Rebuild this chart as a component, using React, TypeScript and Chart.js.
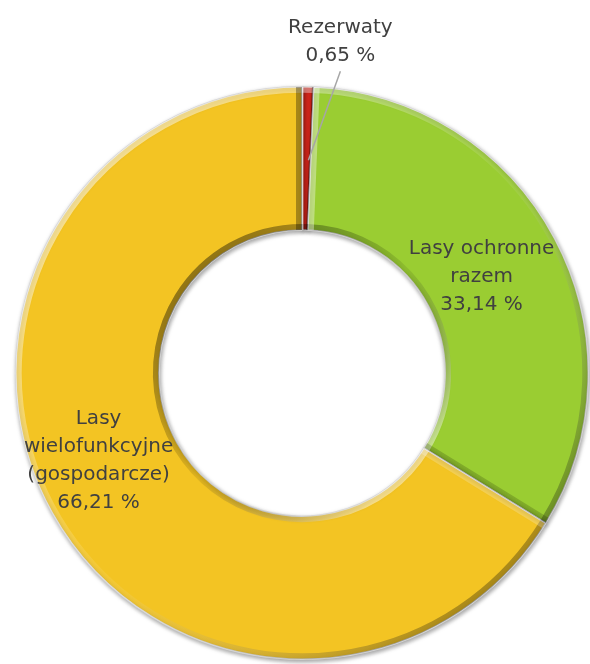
import React, { useEffect, useRef } from "react";
import { Chart, registerables } from "chart.js";

Chart.register(...registerables);

const categories = ["Rezerwaty", "Lasy ochronne razem", "Lasy wielofunkcyjne (gospodarcze)"];
const labelNames = [["Rezerwaty"], ["Lasy ochronne", "razem"], ["Lasy", "wielofunkcyjne", "(gospodarcze)"]];
const values = [0.65, 33.14, 66.21];
const colors = ["#D0261C", "#9ACD32", "#F3C423"];
// label block offsets relative to each slice centre (style only)
const labelOffsets = [
  { dx: 34, dy: -117 },
  { dx: -10, dy: 5 },
  { dx: -16, dy: -17 },
];

const fmt = (v: number) => v.toFixed(2).replace(".", ",") + " %";

const FONT = "20px 'DejaVu Sans'";
const LINE_H = 28;

const shadowPlugin = {
  id: "shadowBevel",
  beforeDatasetDraw(chart: any) {
    const ctx = chart.ctx;
    ctx.save();
    ctx.shadowColor = "rgba(0,0,0,0.35)";
    ctx.shadowBlur = 4;
    ctx.shadowOffsetX = 1;
    ctx.shadowOffsetY = 2;
  },
  afterDatasetDraw(chart: any) {
    const ctx = chart.ctx;
    ctx.restore();
    const meta = chart.getDatasetMeta(0);
    const Lx = -Math.SQRT1_2, Ly = -Math.SQRT1_2;
    meta.data.forEach((arc: any) => {
      const { x, y, startAngle, endAngle, innerRadius, outerRadius } = arc.getProps(
        ["x", "y", "startAngle", "endAngle", "innerRadius", "outerRadius"], true);
      const narrow = (endAngle - startAngle) * innerRadius;
      ctx.save();
      ctx.beginPath();
      ctx.arc(x, y, outerRadius, startAngle, endAngle);
      ctx.arc(x, y, innerRadius, endAngle, startAngle, true);
      ctx.closePath();
      ctx.clip();
      const bw = 12;
      ctx.lineWidth = bw;
      // outer edge
      const g1 = ctx.createLinearGradient(x - outerRadius * 0.7, y - outerRadius * 0.7, x + outerRadius * 0.7, y + outerRadius * 0.7);
      g1.addColorStop(0, "rgba(255,255,255,0.5)");
      g1.addColorStop(0.5, "rgba(255,255,255,0.08)");
      g1.addColorStop(1, "rgba(0,0,0,0.3)");
      ctx.strokeStyle = g1;
      ctx.beginPath();
      ctx.arc(x, y, outerRadius, startAngle, endAngle);
      ctx.stroke();
      // inner edge
      const g2 = ctx.createLinearGradient(x - innerRadius * 0.7, y - innerRadius * 0.7, x + innerRadius * 0.7, y + innerRadius * 0.7);
      g2.addColorStop(0, "rgba(0,0,0,0.4)");
      g2.addColorStop(0.5, "rgba(0,0,0,0.08)");
      g2.addColorStop(1, "rgba(255,255,255,0.45)");
      ctx.strokeStyle = g2;
      ctx.beginPath();
      ctx.arc(x, y, innerRadius, startAngle, endAngle);
      ctx.stroke();
      // radial edges
      ctx.lineWidth = Math.min(bw, narrow * 0.6);
      const edges = [
        { a: startAngle, nx: Math.sin(startAngle), ny: -Math.cos(startAngle) },
        { a: endAngle, nx: -Math.sin(endAngle), ny: Math.cos(endAngle) },
      ];
      edges.forEach((e) => {
        const d = e.nx * Lx + e.ny * Ly;
        ctx.strokeStyle = d > 0 ? `rgba(255,255,255,${0.15 + 0.3 * d})` : `rgba(0,0,0,${0.1 + 0.3 * -d})`;
        ctx.beginPath();
        ctx.moveTo(x + innerRadius * Math.cos(e.a), y + innerRadius * Math.sin(e.a));
        ctx.lineTo(x + outerRadius * Math.cos(e.a), y + outerRadius * Math.sin(e.a));
        ctx.stroke();
      });
      ctx.restore();
    });
  },
};

const labelPlugin = {
  id: "sliceLabels",
  afterDatasetsDraw(chart: any) {
    const ctx = chart.ctx;
    const meta = chart.getDatasetMeta(0);
    meta.data.forEach((arc: any, i: number) => {
      const p = arc.tooltipPosition(true);
      const lines = [...labelNames[i], fmt(values[i])];
      const cx = p.x + labelOffsets[i].dx;
      const cy = p.y + labelOffsets[i].dy;
      const top = cy - ((lines.length - 1) * LINE_H) / 2;
      ctx.save();
      if (i === 0) {
        ctx.strokeStyle = "#a6a6a6";
        ctx.lineWidth = 1.5;
        ctx.beginPath();
        ctx.moveTo(cx, top + (lines.length - 1) * LINE_H + 16);
        ctx.lineTo(p.x + 2, p.y + 2);
        ctx.stroke();
      }
      ctx.font = FONT;
      ctx.fillStyle = "#404040";
      ctx.textAlign = "center";
      ctx.textBaseline = "middle";
      lines.forEach((t, k) => ctx.fillText(t, cx, top + k * LINE_H));
      ctx.restore();
    });
  },
};

export default function App() {
  const ref = useRef<HTMLCanvasElement>(null);
  useEffect(() => {
    if (!ref.current) return;
    const chart = new Chart(ref.current, {
      type: "doughnut",
      data: {
        labels: categories,
        datasets: [
          {
            data: values,
            backgroundColor: colors,
            borderColor: "#d9d9d9",
            borderWidth: 1.5,
          },
        ],
      },
      options: {
        animation: false,
        responsive: false,
        cutout: "50%",
        rotation: 0,
        layout: { padding: { left: 15, right: 1, top: 86, bottom: 4 } },
        plugins: { legend: { display: false }, tooltip: { enabled: false } },
      },
      plugins: [shadowPlugin, labelPlugin],
    });
    return () => chart.destroy();
  }, []);
  return (
    <div style={{ position: "fixed", left: 0, top: 0, width: 590, height: 664, background: "#fff" }}>
      <canvas ref={ref} width={590} height={664} style={{ width: 590, height: 664, display: "block" }} />
    </div>
  );
}
